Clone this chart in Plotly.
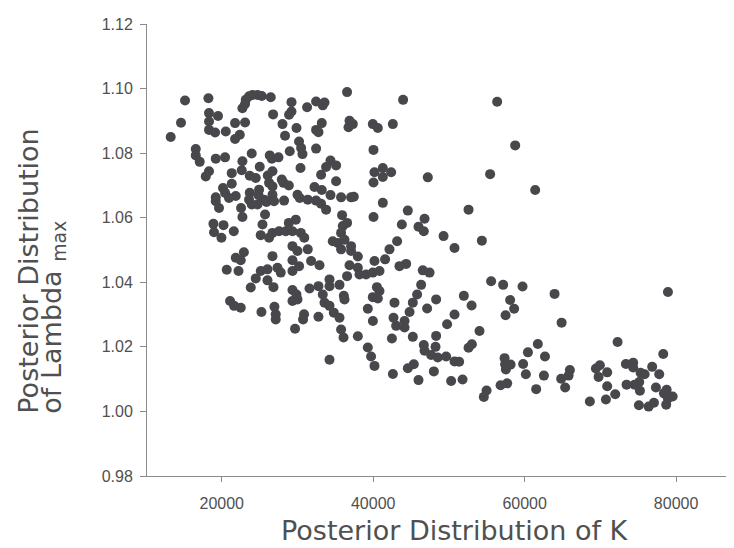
import plotly.graph_objects as go

# Posterior Distribution of K (x) and of Lambda_max (y)
k_values = [
    15150, 18240, 14620, 13260, 18320, 19510, 18320, 18320, 19120, 20530,
    21760, 23080, 22380, 21760, 23170, 23610, 24060, 24720, 25280, 26470,
    22730, 23080, 29210, 26780, 29210, 28890, 28020, 29870, 28360, 30210,
    30480, 28980, 30660, 16570, 16570, 17090, 19210, 20440, 23960, 22730,
    26340, 27490, 26610, 25020, 30400, 18320, 17890, 21320, 22640, 23700,
    24490, 26080, 26700, 21320, 27930, 28150, 28860, 20170, 20440, 21850,
    20960, 19210, 19210, 19640, 23700, 24930, 26250, 26700, 26700, 24850,
    23610, 23960, 24720, 25590, 25910, 26910, 28230, 30000, 30300, 22550,
    22730, 25720, 18900, 20230, 25380, 18980, 19960, 21590, 25150, 26250,
    26700, 27570, 28450, 28860, 29780, 29340, 30440, 29340, 30000, 22920,
    21850, 26700, 29340,
    22510, 20660, 22210, 24490, 25150, 26040, 27360, 27790, 29340, 30210,
    26040, 26830, 23830, 29340, 29870, 29340, 30000, 21100, 21630, 22510,
    25240, 26960, 27130, 27130, 30870, 30740, 29680,
    36550, 43950, 31270, 32460, 33570, 33340, 33210, 32460, 32770, 36870,
    37310, 36740, 39950, 40610, 42590, 32460, 40040, 33120, 33780, 34360,
    35100, 35100, 41270, 40170, 41270, 42370, 40040, 47210, 32250, 33210,
    34360, 31360, 32460, 33120, 33780, 35760, 37080, 37440, 41270, 44570,
    35890, 36550, 35980, 40040, 46780, 43780, 45980, 46680, 49290, 30900,
    35760, 34660, 35320, 36210, 35760, 37080, 37080, 37970, 43160, 42150,
    31360,
    31800, 32910, 36870, 37970, 40170, 41570, 43470, 44350, 46550, 38190,
    39060, 39950, 40830, 47440, 36550, 34230, 34230, 31590, 32770, 33340,
    33570, 34230, 35550, 36120, 36210, 40490, 40830, 39950, 40610, 39290,
    39960, 34800, 35550, 32770, 35760, 36080, 37970, 34230, 39290, 39720,
    40170, 42810, 42680, 43030, 44140, 44140, 44800, 45230, 45800, 46330,
    47120, 48310, 42470, 45230, 49760, 48310, 46680, 46780, 48230, 47650,
    48530, 49630, 45360, 44570, 48010, 42600, 45980,
    56370, 58750, 55440, 61390, 52590, 54350, 50740, 55570, 57160, 59720,
    51970, 63950, 78920, 58080, 52990, 58610, 50740, 57480, 64880, 54040,
    61740, 72270, 52590, 53030, 60430, 62680, 78300, 50740, 51350, 57350,
    57420, 58140, 57520, 59800, 60160, 62540, 65970, 65800, 64820, 65350,
    69930, 69410, 70900, 69760, 73370, 74330, 74330, 76840, 75310, 75840,
    77770, 75130, 74520, 73460, 70900, 77330, 75220, 78750, 78390, 79540,
    78920, 71960, 70730, 68610, 75090, 76370, 77070, 78690, 50290, 51800,
    56820, 57690, 54970, 54610, 61520,
]

lambda_values = [
    1.0963, 1.0970, 1.0894, 1.0850, 1.0924, 1.0915, 1.0898, 1.0872, 1.0864, 1.0867,
    1.0893, 1.0895, 1.0857, 1.0844, 1.0965, 1.0976, 1.0980, 1.0980, 1.0977, 1.0973,
    1.0939, 1.0952, 1.0958, 1.0920, 1.0929, 1.0919, 1.0890, 1.0878, 1.0854, 1.0836,
    1.0816, 1.0806, 1.0797, 1.0813, 1.0793, 1.0773, 1.0783, 1.0787, 1.0799, 1.0775,
    1.0793, 1.0787, 1.0783, 1.0758, 1.0754, 1.0744, 1.0728, 1.0738, 1.0747, 1.0730,
    1.0723, 1.0731, 1.0744, 1.0705, 1.0718, 1.0708, 1.0700, 1.0692, 1.0677, 1.0667,
    1.0661, 1.0663, 1.0651, 1.0630, 1.0677, 1.0687, 1.0708, 1.0697, 1.0671, 1.0670,
    1.0656, 1.0641, 1.0641, 1.0656, 1.0649, 1.0651, 1.0653, 1.0671, 1.0661, 1.0630,
    1.0602, 1.0610, 1.0581, 1.0577, 1.0579, 1.0555, 1.0538, 1.0558, 1.0546, 1.0538,
    1.0553, 1.0558, 1.0558, 1.0584, 1.0594, 1.0558, 1.0553, 1.0512, 1.0497, 1.0493,
    1.0476, 1.0481, 1.0468,
    1.0468, 1.0439, 1.0435, 1.0412, 1.0435, 1.0440, 1.0445, 1.0430, 1.0435, 1.0450,
    1.0406, 1.0385, 1.0384, 1.0376, 1.0362, 1.0342, 1.0347, 1.0342, 1.0327, 1.0321,
    1.0308, 1.0324, 1.0301, 1.0285, 1.0301, 1.0285, 1.0256,
    1.0989, 1.0965, 1.0942, 1.0960, 1.0957, 1.0948, 1.0893, 1.0872, 1.0865, 1.0900,
    1.0890, 1.0880, 1.0890, 1.0878, 1.0890, 1.0814, 1.0810, 1.0733, 1.0757, 1.0777,
    1.0762, 1.0713, 1.0754, 1.0741, 1.0726, 1.0741, 1.0709, 1.0725, 1.0695, 1.0686,
    1.0670, 1.0656, 1.0653, 1.0643, 1.0625, 1.0663, 1.0663, 1.0665, 1.0646, 1.0622,
    1.0608, 1.0584, 1.0574, 1.0602, 1.0597, 1.0579, 1.0572, 1.0558, 1.0543, 1.0538,
    1.0553, 1.0527, 1.0522, 1.0532, 1.0502, 1.0512, 1.0497, 1.0480, 1.0527, 1.0502,
    1.0502,
    1.0466, 1.0453, 1.0453, 1.0445, 1.0466, 1.0471, 1.0450, 1.0457, 1.0437, 1.0424,
    1.0424, 1.0430, 1.0435, 1.0430, 1.0419, 1.0409, 1.0388, 1.0381, 1.0388, 1.0362,
    1.0337, 1.0327, 1.0392, 1.0358, 1.0347, 1.0385, 1.0373, 1.0354, 1.0350, 1.0318,
    1.0280, 1.0306, 1.0290, 1.0293, 1.0254, 1.0229, 1.0233, 1.0160, 1.0198, 1.0170,
    1.0141, 1.0337, 1.0290, 1.0265, 1.0260, 1.0280, 1.0308, 1.0337, 1.0362, 1.0392,
    1.0319, 1.0347, 1.0226, 1.0231, 1.0270, 1.0234, 1.0206, 1.0188, 1.0200, 1.0175,
    1.0167, 1.0170, 1.0146, 1.0134, 1.0124, 1.0116, 1.0097,
    1.0959, 1.0824, 1.0735, 1.0686, 1.0625, 1.0529, 1.0506, 1.0403, 1.0392, 1.0387,
    1.0358, 1.0364, 1.0370, 1.0345, 1.0328, 1.0318, 1.0300, 1.0298, 1.0275, 1.0249,
    1.0209, 1.0215, 1.0197, 1.0208, 1.0183, 1.0170, 1.0178, 1.0155, 1.0154, 1.0165,
    1.0146, 1.0145, 1.0130, 1.0147, 1.0115, 1.0111, 1.0128, 1.0111, 1.0101, 1.0074,
    1.0143, 1.0133, 1.0121, 1.0107, 1.0147, 1.0151, 1.0136, 1.0138, 1.0120, 1.0115,
    1.0115, 1.0091, 1.0083, 1.0083, 1.0078, 1.0074, 1.0064, 1.0067, 1.0056, 1.0046,
    1.0040, 1.0053, 1.0037, 1.0031, 1.0019, 1.0015, 1.0027, 1.0021, 1.0094, 1.0099,
    1.0081, 1.0087, 1.0065, 1.0045, 1.0069,
]

x_ticks = [20000, 40000, 60000, 80000]
y_ticks = [0.98, 1.00, 1.02, 1.04, 1.06, 1.08, 1.10, 1.12]

x_title = "Posterior Distribution of K"
y_title_line1 = "Posterior Distribution"
y_title_line2 = "of Lambda <sub>max</sub>"

axis_color = "#8a8a8a"
tick_font = dict(family="Liberation Sans, Arial, sans-serif", size=16, color="#505050")
title_font = dict(family="DejaVu Sans, sans-serif", size=27, color="#505050")

fig = go.Figure()
fig.add_trace(go.Scatter(
    x=k_values, y=lambda_values, mode="markers",
    marker=dict(size=10, color="#47474c", line=dict(width=0)),
    hoverinfo="x+y",
))

fig.update_layout(
    width=734, height=548,
    margin=dict(l=139, r=0, t=16, b=80),
    paper_bgcolor="white", plot_bgcolor="white",
    showlegend=False,
    xaxis=dict(
        range=[10130, 88700], tickvals=x_ticks, tickformat="d",
        showline=True, linecolor=axis_color, linewidth=1,
        ticks="outside", ticklen=5, tickcolor=axis_color, tickwidth=1,
        showgrid=False, zeroline=False, tickfont=tick_font,
        ticklabelstandoff=8,
    ),
    yaxis=dict(
        range=[0.98, 1.12], tickvals=y_ticks, tickformat=".2f",
        showline=True, linecolor=axis_color, linewidth=1,
        ticks="outside", ticklen=6, tickcolor=axis_color, tickwidth=1,
        showgrid=False, zeroline=False, tickfont=tick_font,
        ticklabelstandoff=4,
    ),
    annotations=[
        dict(text=x_title, xref="paper", yref="paper", x=0.5176, y=-0.082,
             xanchor="center", yanchor="top", showarrow=False, font=title_font),
        dict(text=y_title_line1, xref="paper", yref="paper", x=-0.2291, y=0.1327,
             xanchor="left", yanchor="bottom", textangle=-90, showarrow=False,
             font=title_font),
        dict(text=y_title_line2, xref="paper", yref="paper", x=-0.1904, y=0.1327,
             xanchor="left", yanchor="bottom", textangle=-90, showarrow=False,
             font=title_font),
    ],
)

fig.write_html("out.html")
